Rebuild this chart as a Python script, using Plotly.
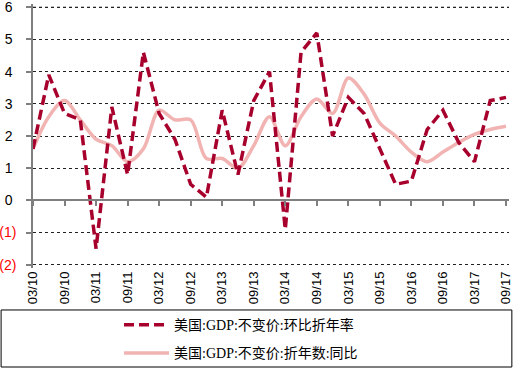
import plotly.graph_objects as go

quarters = ["03/10", "06/10", "09/10", "12/10",
            "03/11", "06/11", "09/11", "12/11",
            "03/12", "06/12", "09/12", "12/12",
            "03/13", "06/13", "09/13", "12/13",
            "03/14", "06/14", "09/14", "12/14",
            "03/15", "06/15", "09/15", "12/15",
            "03/16", "06/16", "09/16", "12/16",
            "03/17", "06/17", "09/17"]

qoq_annualized = [1.6, 3.9, 2.7, 2.5,
                  -1.5, 2.9, 0.8, 4.6,
                  2.7, 1.9, 0.5, 0.1,
                  2.8, 0.8, 3.1, 4.0,
                  -0.9, 4.6, 5.2, 2.0,
                  3.2, 2.7, 1.6, 0.5,
                  0.6, 2.2, 2.8, 1.8,
                  1.2, 3.1, 3.2]

yoy = [1.6, 2.6, 3.1, 2.5,
       1.9, 1.7, 1.2, 1.6,
       2.8, 2.5, 2.5, 1.3,
       1.3, 1.0, 1.7, 2.6,
       1.7, 2.6, 3.15, 2.7,
       3.8, 3.3, 2.4, 2.0,
       1.5, 1.2, 1.5, 1.8,
       2.05, 2.2, 2.3]

name_qoq = "美国:GDP:不变价:环比折年率"
name_yoy = "美国:GDP:不变价:折年数:同比"

y_ticks = [-2, -1, 0, 1, 2, 3, 4, 5, 6]
y_ticktext = ["<span style='color:#FF0000'>(2)</span>",
              "<span style='color:#FF0000'>(1)</span>",
              "0&nbsp;", "1&nbsp;", "2&nbsp;", "3&nbsp;", "4&nbsp;", "5&nbsp;", "6&nbsp;"]

idx = list(range(len(quarters)))
label_idx = idx[::2]
label_text = quarters[::2]

fig = go.Figure()
fig.add_trace(go.Scatter(
    x=idx, y=yoy, name=name_yoy, mode="lines",
    line=dict(color="#F2B3B3", width=3.5, shape="spline", smoothing=0.9),
    legendgroup="b", legendrank=2, cliponaxis=False))
fig.add_trace(go.Scatter(
    x=idx, y=qoq_annualized, name=name_qoq, mode="lines",
    line=dict(color="#A8002C", width=3.5, dash="10px,5px"),
    legendgroup="a", legendrank=1, cliponaxis=False))
fig.add_trace(go.Scatter(x=[], y=[], xaxis="x2", showlegend=False, hoverinfo="skip"))

xr = [0, 30.19]
yr = [-2.1, 6.1]
fig.update_layout(
    width=513, height=368,
    margin=dict(l=33, r=4, t=4, b=100, autoexpand=False),
    paper_bgcolor="white", plot_bgcolor="white",
    font=dict(family="Liberation Sans, Arial, sans-serif", size=13, color="black"),
    xaxis=dict(range=xr, tickmode="array", tickvals=label_idx, ticktext=label_text,
               tickangle=-90, showgrid=False, zeroline=False, showline=False,
               ticks="", automargin=False, ticklabeloverflow="allow",
               tickfont=dict(size=13, color="black")),
    xaxis2=dict(range=xr, overlaying="x", anchor="free",
                position=(0 - yr[0]) / (yr[1] - yr[0]),
                showline=True, linecolor="#7F7F7F", linewidth=1.5,
                ticks="outside", ticklen=5, tickcolor="#7F7F7F", tickwidth=1.5,
                tickmode="array", tickvals=label_idx, showticklabels=False,
                showgrid=False, zeroline=False, automargin=False),
    yaxis=dict(range=yr, tickmode="array", tickvals=y_ticks, ticktext=y_ticktext,
               showgrid=True, gridcolor="#222222", griddash="dot", gridwidth=1,
               zeroline=False, showline=True, linecolor="#7F7F7F", linewidth=1.5,
               ticks="outside", ticklen=5, tickcolor="#7F7F7F", tickwidth=1.5,
               ticklabelstandoff=7, automargin=False, ticklabeloverflow="allow",
               tickfont=dict(size=14, color="black")),
    legend=dict(xref="container", yref="container", x=0.232, y=0.16,
                xanchor="left", yanchor="top", itemwidth=45,
                orientation="v", traceorder="grouped", tracegroupgap=7,
                bgcolor="rgba(0,0,0,0)", borderwidth=0,
                font=dict(family="Liberation Serif, Noto Sans CJK SC, serif", size=14, color="black")),
    shapes=[dict(type="rect", xref="paper", yref="paper",
                 x0=-0.067, x1=1.006, y0=-0.375, y1=-0.159,
                 line=dict(color="black", width=1), fillcolor="rgba(0,0,0,0)"),
            dict(type="line", xref="paper", yref="y", layer="below",
                 x0=0, x1=1, y0=y_ticks[-1], y1=y_ticks[-1],
                 line=dict(color="#222222", width=1, dash="dot"))],
    showlegend=True,
)

fig.write_html("out.html", config={"displayModeBar": False},
               post_script="document.body.style.margin='0';document.body.style.overflow='hidden';")
